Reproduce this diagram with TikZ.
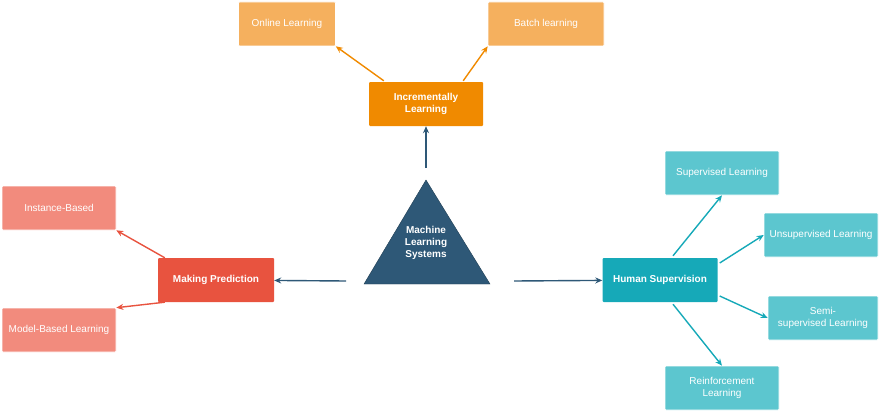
\documentclass[tikz,border=0pt]{standalone}
\usepackage{fontspec}
\setmainfont{Liberation Sans}
\usetikzlibrary{arrows.meta,shapes.geometric}
\definecolor{trianglecol}{HTML}{2E5877}
\definecolor{orangedark}{HTML}{F08A00}
\definecolor{orangelight}{HTML}{F5B05E}
\definecolor{reddark}{HTML}{E8533F}
\definecolor{redlight}{HTML}{F28B7D}
\definecolor{tealdark}{HTML}{16A9B8}
\definecolor{teallight}{HTML}{5CC6CF}
\tikzset{
    box/.style={rectangle, rounded corners=1pt, minimum height=44pt, align=center, font=\fontsize{10}{12}\selectfont},
    mainbox/.style={box, text=white, font=\fontsize{10}{12}\selectfont\bfseries},
    subbox/.style={box, text=white, draw=white, line width=0.6pt},
    link/.style={-{Stealth[length=7pt,width=6pt]}, line width=1.4pt}
}
\begin{document}
\begin{tikzpicture}[x=1pt, y=-1pt]
    \useasboundingbox (0,0) rectangle (880,412);

    % centre
    \fill[trianglecol, draw=trianglecol!70!black] (426,180) -- (490,284) -- (364,284) -- cycle;
    \node[text=white, font=\fontsize{10}{12}\selectfont\bfseries, align=center] (mls) at (426,243) {Machine\\Learning\\Systems};
    \coordinate (top) at (426,168);
    \coordinate (left) at (346,281);
    \coordinate (right) at (514,281);

    % incremental branch
    \node[mainbox, fill=orangedark, minimum width=114pt] (incr) at (426,104) {Incrementally\\Learning};
    \node[subbox, fill=orangelight, minimum width=97pt] (online) at (287,24) {Online Learning};
    \node[subbox, fill=orangelight, minimum width=116pt] (batch) at (546,24) {Batch learning};

    % prediction branch
    \node[mainbox, fill=reddark, minimum width=116pt] (pred) at (216,280) {Making Prediction};
    \node[subbox, fill=redlight, minimum width=114pt] (inst) at (59,208) {Instance-Based};
    \node[subbox, fill=redlight, minimum width=114pt] (model) at (59,330) {Model-Based Learning};

    % supervision branch
    \node[mainbox, fill=tealdark, minimum width=115pt] (human) at (660,280) {Human Supervision};
    \node[subbox, fill=teallight, minimum width=114pt] (sup) at (722,173) {Supervised Learning};
    \node[subbox, fill=teallight, minimum width=114pt] (unsup) at (821,235) {Unsupervised Learning};
    \node[subbox, fill=teallight, minimum width=110pt] (semi) at (823,318) {Semi-\\supervised Learning};
    \node[subbox, fill=teallight, minimum width=114pt] (reinf) at (722,388) {Reinforcement\\Learning};

    \draw[link, trianglecol] (top) -- (incr);
    \draw[link, trianglecol] (left) -- (pred);
    \draw[link, trianglecol] (right) -- (human);

    \draw[link, orangedark] (incr.north west) ++(15,-1) -- (online.south east);
    \draw[link, orangedark] (incr.north east) ++(-20,-1) -- (batch.south west);

    \draw[link, reddark] (pred.north west) ++(7,0) -- (inst.south east);
    \draw[link, reddark] (pred.south west) ++(7,0) -- (model.north east);

    \draw[link, tealdark] (human.north) ++(13,-2) -- (sup.south);
    \draw[link, tealdark] (human.east) ++(2,-17) -- (unsup.west);
    \draw[link, tealdark] (human.east) ++(2,16) -- (semi.west);
    \draw[link, tealdark] (human.south) ++(13,2) -- (reinf.north);
\end{tikzpicture}
\end{document}
